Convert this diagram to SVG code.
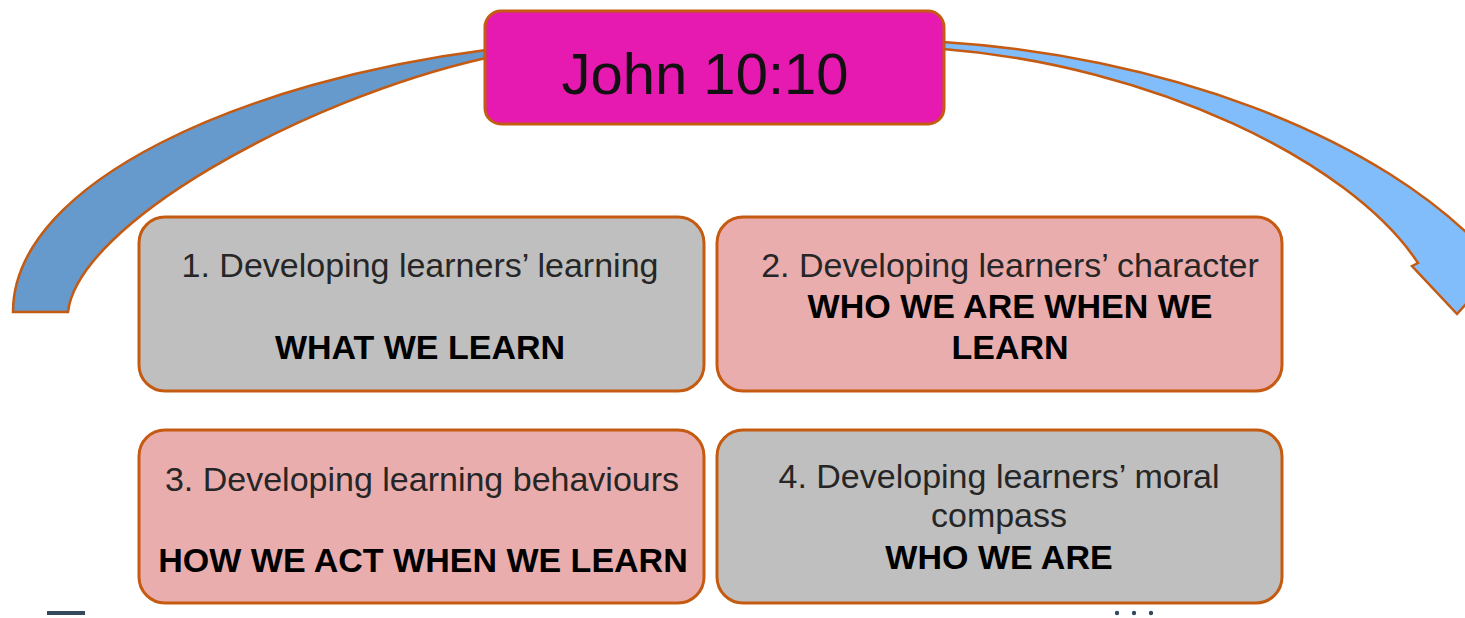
<svg xmlns="http://www.w3.org/2000/svg" width="1465" height="618" viewBox="0 0 1465 618">
<style>
.box{stroke:#C55A11;stroke-width:3}
.gray{fill:#BFBFBF}
.pink{fill:#EAADAD}
.t{font-family:"Liberation Sans",Arial,sans-serif;font-size:34px;fill:#262626;text-anchor:middle}
.b{font-family:"Liberation Sans",Arial,sans-serif;font-size:34px;font-weight:bold;fill:#000;text-anchor:middle}
.arc{stroke:#C55A11;stroke-width:2.5;stroke-linejoin:miter}
</style>
<rect width="1465" height="618" fill="#fff"/>
<g id="connectors">
<path class="arc" fill="#6699CC" d="M13,312 C13,180 250,80 486,50 L486,58 C300,100 78,225 68,312 Z"/>
<path class="arc" fill="#80BDFA" d="M943,42 C1150,55 1380,130 1495,262 L1510,255 L1457,314 L1412,266 L1418,263 C1350,160 1150,65 943,49 Z"/>
</g>
<g id="title">
<rect x="485" y="11" width="459" height="113" rx="16" fill="#E619B0" class="box" stroke-width="2.5"/>
<text x="705" y="94" font-family="Liberation Sans, Arial, sans-serif" font-size="58" fill="#111" text-anchor="middle">John 10:10</text>
</g>
<g id="box1">
<rect class="box gray" x="139" y="217" width="565" height="174" rx="26"/>
<text class="t" x="420" y="277">1. Developing learners’ learning</text>
<text class="b" x="420" y="359">WHAT WE LEARN</text>
</g>
<g id="box2">
<rect class="box pink" x="717" y="217" width="565" height="174" rx="26"/>
<text class="t" x="1010" y="277">2. Developing learners’ character</text>
<text class="b" x="1010" y="318">WHO WE ARE WHEN WE</text>
<text class="b" x="1010" y="359">LEARN</text>
</g>
<g id="box3">
<rect class="box pink" x="139" y="430" width="565" height="173" rx="26"/>
<text class="t" x="422" y="491">3. Developing learning behaviours</text>
<text class="b" x="423" y="572">HOW WE ACT WHEN WE LEARN</text>
</g>
<g id="box4">
<rect class="box gray" x="717" y="430" width="565" height="173" rx="26"/>
<text class="t" x="999" y="488">4. Developing learners’ moral</text>
<text class="t" x="999" y="527">compass</text>
<text class="b" x="999" y="569">WHO WE ARE</text>
</g>
<g id="footer" fill="#34495E">
<rect x="47" y="611" width="38" height="4"/>
<circle cx="1117" cy="613" r="2.2"/>
<circle cx="1134" cy="613" r="2.2"/>
<circle cx="1151" cy="613" r="2.2"/>
</g>
</svg>
